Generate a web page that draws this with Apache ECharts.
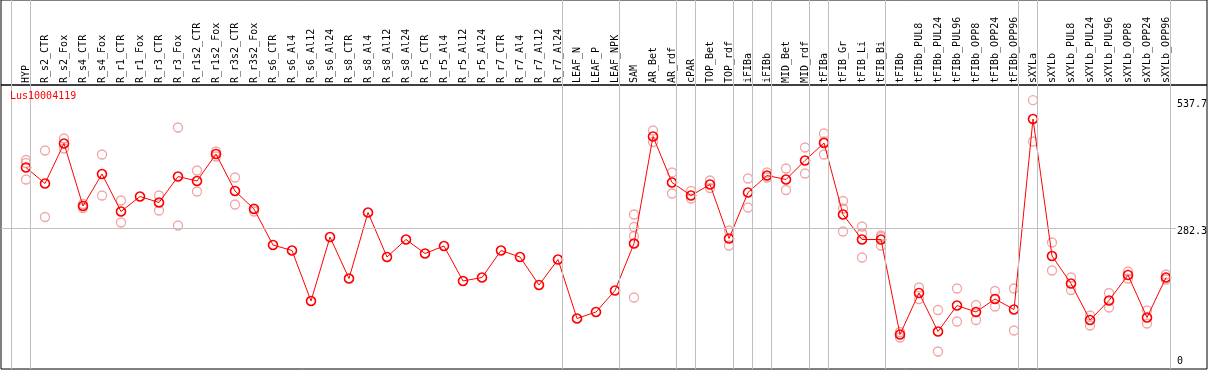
<!DOCTYPE html>
<html>
<head>
<meta charset="utf-8">
<script src="https://cdn.jsdelivr.net/npm/echarts@6/dist/echarts.min.js"></script>
<style>
  html, body { margin: 0; padding: 0; background: #fff; }
  #main { width: 1209px; height: 370px; }
</style>
</head>
<body>
<div id="main"></div>
<script>
// 样本名称
var categories = ['HYP', 'R_s2_CTR', 'R_s2_Fox', 'R_s4_CTR', 'R_s4_Fox', 'R_r1_CTR', 'R_r1_Fox', 'R_r3_CTR', 'R_r3_Fox',
  'R_r1s2_CTR', 'R_r1s2_Fox', 'R_r3s2_CTR', 'R_r3s2_Fox', 'R_s6_CTR', 'R_s6_Al4', 'R_s6_Al12', 'R_s6_Al24',
  'R_s8_CTR', 'R_s8_Al4', 'R_s8_Al12', 'R_s8_Al24', 'R_r5_CTR', 'R_r5_Al4', 'R_r5_Al12', 'R_r5_Al24',
  'R_r7_CTR', 'R_r7_Al4', 'R_r7_Al12', 'R_r7_Al24', 'LEAF_N', 'LEAF_P', 'LEAF_NPK', 'SAM', 'AR_Bet', 'AR_rdf',
  'cPAR', 'TOP_Bet', 'TOP_rdf', 'iFIBa', 'iFIBb', 'MID_Bet', 'MID_rdf', 'tFIBa', 'tFIB_Gr', 'tFIB_Li', 'tFIB_Bi',
  'tFIBb', 'tFIBb_PUL8', 'tFIBb_PUL24', 'tFIBb_PUL96', 'tFIBb_OPP8', 'tFIBb_OPP24', 'tFIBb_OPP96',
  'sXYLa', 'sXYLb', 'sXYLb_PUL8', 'sXYLb_PUL24', 'sXYLb_PUL96', 'sXYLb_OPP8', 'sXYLb_OPP24', 'sXYLb_OPP96'];

// 平均值
var means = [403, 371, 451, 326, 390, 315, 345, 333, 385, 376, 430, 356, 320, 248, 237, 136, 264,
  181, 313, 224, 259, 231, 246, 176, 183, 237, 224, 168, 219, 101, 114, 157, 251, 465, 373,
  347, 369, 261, 353, 387, 379, 417, 452, 309, 259, 259, 69, 152, 75, 127, 114, 140, 119,
  500, 226, 171, 98, 137, 188, 103, 183];

// 重复样本
var replicates = [[418, 412, 379], [437, 304], [461, 441], [330, 322], [429, 347], [337, 293], [], [347, 317], [483, 287],
  [397, 355], [435, 425], [383, 329], [321, 315], [], [], [], [],
  [], [], [], [], [], [], [], [],
  [], [], [], [], [], [], [], [309, 284, 266, 143], [477, 454], [393, 351],
  [356, 341], [377, 362], [277, 247], [381, 323], [393, 383], [401, 358], [443, 391], [471, 455, 429], [336, 321, 275], [285, 271, 223], [267, 264, 247],
  [74, 63], [163, 140], [118, 35], [161, 95], [128, 98], [156, 125], [161, 77],
  [537.7, 455], [253, 197], [183, 158], [107, 87], [152, 123], [195, 181], [117, 91], [189, 179]];

// 分组分隔线（在该序号之后）
var groupEnds = [-1, 0, 28, 31, 34, 35, 37, 38, 39, 41, 42, 45, 52, 53, 60];

// 右侧刻度
var yTicks = [0, 282.3, 537.7];

var title = 'Lus10004119';
var font = 'DejaVu Sans Mono';

// 布局：类目间距19px，第一个类目中心在x=26
var step = 19, firstX = 26, frameL = 1, frameR = 1207;
var xMin = (frameL - firstX) / step, xMax = (frameR - firstX) / step;
var labelEnd = (1176 - firstX) / step;

var repData = [];
for (var i = 0; i < replicates.length; i++) {
  for (var j = 0; j < replicates[i].length; j++) {
    repData.push([i, replicates[i][j]]);
  }
}

var sepLines = groupEnds.map(function (g) { return { xAxis: g + 4 / step }; });

var tickLines = yTicks.map(function (v) {
  return [
    { coord: [xMin, v], lineStyle: { color: v === 282.3 ? '#c0c0c0' : 'rgba(0,0,0,0)' } },
    {
      coord: [labelEnd, v],
      label: {
        show: true, position: 'end', distance: 1, formatter: String(v),
        verticalAlign: v === 0 ? 'bottom' : 'top', offset: [0, v === 0 ? -3 : -1],
        fontFamily: font, fontSize: 10, color: '#000'
      }
    }
  ];
});

var chart = echarts.init(document.getElementById('main'), null, { renderer: 'canvas' });

var option = {
  animation: false,
  title: {
    text: title, left: 5, top: 86,
    textStyle: { fontFamily: font, fontSize: 10, fontWeight: 'normal', color: '#ff0000' }
  },
  grid: [
    { left: frameL, right: 1209 - frameR, top: 0, height: 85, show: true, borderColor: '#000', borderWidth: 1 },
    { left: frameL, right: 1209 - frameR, top: 85, height: 284, show: true, borderColor: '#000', borderWidth: 1 },
    { left: firstX - step / 2, width: step * categories.length, top: 85, height: 284 }
  ],
  xAxis: [
    { gridIndex: 0, type: 'value', min: xMin, max: xMax, show: false },
    { gridIndex: 1, type: 'value', min: xMin, max: xMax, show: false },
    {
      gridIndex: 2, type: 'category', position: 'top', data: categories,
      axisLine: { show: false }, axisTick: { show: false }, splitLine: { show: false },
      axisLabel: { interval: 0, rotate: 90, margin: 2, fontFamily: font, fontSize: 10, color: '#000' }
    }
  ],
  yAxis: [
    { gridIndex: 0, type: 'value', min: 0, max: 1, show: false },
    { gridIndex: 1, type: 'value', min: 0, max: 568, show: false },
    { gridIndex: 2, type: 'value', min: 0, max: 568, show: false }
  ],
  series: [
    {
      type: 'line', xAxisIndex: 0, yAxisIndex: 0, data: [], silent: true,
      markLine: { symbol: 'none', silent: true, label: { show: false },
        lineStyle: { color: '#c0c0c0', width: 1, type: 'solid' }, data: sepLines }
    },
    {
      type: 'line', xAxisIndex: 1, yAxisIndex: 1, data: [], silent: true,
      markLine: { symbol: 'none', silent: true, label: { show: false },
        lineStyle: { color: '#c0c0c0', width: 1, type: 'solid' }, data: sepLines.concat(tickLines) }
    },
    {
      name: 'replicates', type: 'scatter', xAxisIndex: 2, yAxisIndex: 2,
      data: repData, symbol: 'circle', symbolSize: 9,
      itemStyle: { color: 'rgba(0,0,0,0)', borderColor: '#ee9090', borderWidth: 1.3 }
    },
    {
      name: title, type: 'line', xAxisIndex: 2, yAxisIndex: 2,
      data: means, symbol: 'circle', symbolSize: 9, showAllSymbol: true,
      lineStyle: { color: '#ff0000', width: 1 },
      itemStyle: { color: 'rgba(0,0,0,0)', borderColor: '#ff0000', borderWidth: 1.6 }
    }
  ]
};

chart.setOption(option);
</script>
</body>
</html>
